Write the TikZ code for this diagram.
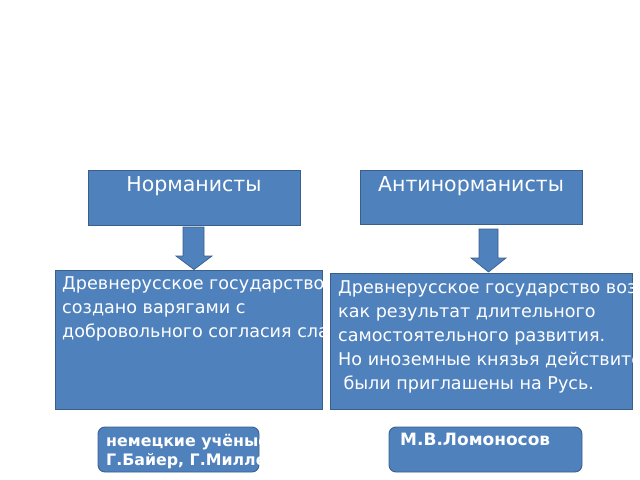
\documentclass[tikz,border=0pt]{standalone}
\usepackage{fontspec}
\setmainfont{DejaVu Sans}
\definecolor{boxfill}{HTML}{4F81BD}
\definecolor{boxline}{HTML}{3A5F8C}
\begin{document}
\begin{tikzpicture}[x=0.03cm,y=-0.03cm]
    \tikzset{box/.style 2 args={draw=boxline, fill=boxfill, line width=0.8pt, inner sep=0pt, minimum width=#1*0.03cm, minimum height=#2*0.03cm}};
    \tikzset{txt/.style={text=white, anchor=north west, align=left, inner sep=0pt}};
    \useasboundingbox (0,0) rectangle (640,480);
    
    \node[box={212}{55}] (norm) at (194,197.5) {};
    \node[box={222}{54}] (anti) at (471,197) {};
    \node[box={267}{139}] (ltext) at (188.5,339.5) {};
    \node[box={302}{136}] (rtext) at (481,341) {};
    \node[box={161}{45}, rounded corners=6pt] (lname) at (178.5,449.5) {};
    \node[box={193}{45}, rounded corners=6pt] (rname) at (485.5,449.5) {};
    
    \node[txt, anchor=north, font=\fontsize{17.5}{20}\selectfont] at (norm.north) [yshift=-6pt] {Норманисты};
    \node[txt, anchor=north, font=\fontsize{17.5}{20}\selectfont] at (anti.north) [yshift=-6pt] {Антинорманисты};
    
    % arrows
    \draw[boxline, fill=boxfill, line width=0.6pt] (183,227) -- (204,227) -- (204,256) -- (212,256) -- (ltext.north -| 194,0) -- (176,256) -- (183,256) -- cycle;
    \draw[boxline, fill=boxfill, line width=0.6pt] (479,229) -- (498,229) -- (498,258) -- (506,258) -- (488.5,272) -- (471,258) -- (479,258) -- cycle;
    
    \begin{scope}
        \clip (ltext.south west) rectangle (ltext.north east);
        \node[txt, font=\fontsize{15}{20.5}\selectfont] at (62,276) {Древнерусское государство было\\создано варягами с\\добровольного согласия славян};
    \end{scope}
    \begin{scope}
        \clip (rtext.south west) rectangle (rtext.north east);
        \node[txt, font=\fontsize{15}{20.5}\selectfont] at (338,280) {Древнерусское государство возникло\\как результат длительного\\самостоятельного развития.\\Но иноземные князья действительно\\\hspace*{0.3em}были приглашены на Русь.};
    \end{scope}
    \begin{scope}
        \clip (lname.south west) rectangle (lname.north east);
        \node[txt, font=\bfseries\fontsize{13.5}{16.5}\selectfont] at (106,434) {немецкие учёные\\Г.Байер, Г.Миллер};
    \end{scope}
    \node[txt, font=\bfseries\fontsize{14.5}{17}\selectfont] at (400,433) {М.В.Ломоносов};
\end{tikzpicture}
\end{document}
